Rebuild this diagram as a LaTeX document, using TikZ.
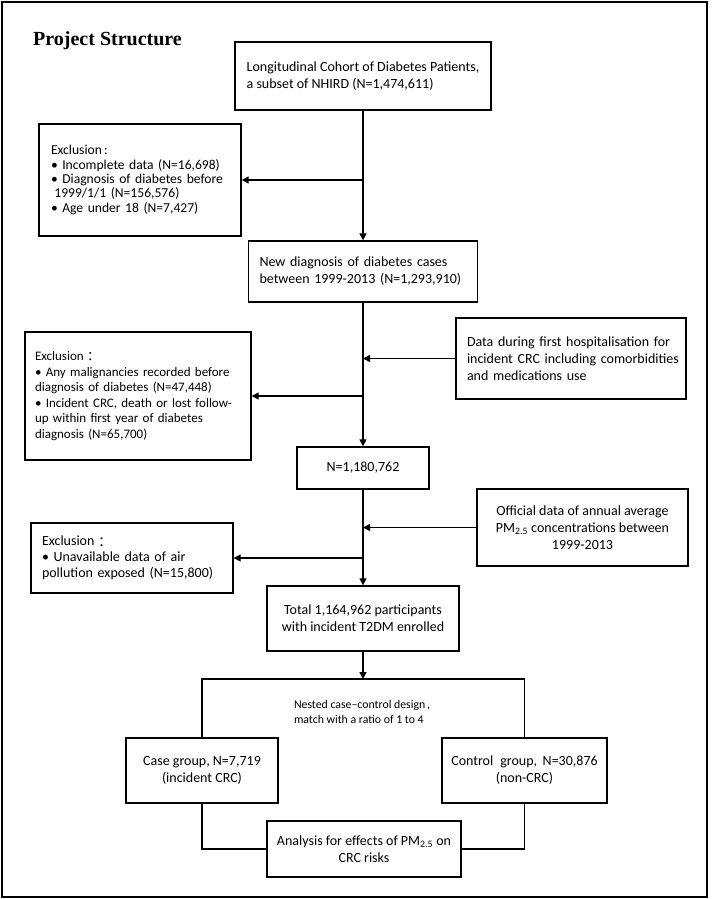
\documentclass[tikz,border=0pt]{standalone}
\usepackage{fontspec}
\setmainfont{Carlito}
\newfontfamily\titlefont{Liberation Serif}
\newfontfamily\cjk{Noto Sans CJK TC}
\usetikzlibrary{arrows.meta}
\newcommand{\fwcolon}{\raisebox{-0.12em}{\cjk ：}}
\begin{document}
\begin{tikzpicture}[x=1pt,y=-1pt,
  box/.style={draw, line width=1.4pt, inner ysep=0pt, font=\fontsize{14}{17}\selectfont},
  exbox/.style={draw, line width=1.4pt, inner ysep=0pt, align=left},
  arr/.style={line width=1.4pt, -{Triangle[length=7pt,width=7pt]}},
  ln/.style={line width=1.4pt}]
\useasboundingbox (0,0) rectangle (712,899);
\draw[line width=1.6pt] (2,2) rectangle (707,897);

\node[anchor=base west, inner sep=0pt, font=\titlefont\bfseries\fontsize{20}{24}\selectfont] (title) at (33,46) {Project Structure};

\node[box, minimum width=256pt, minimum height=68pt, inner xsep=0pt, align=left] (b1) at (363,76)
  {Longitudinal Cohort of Diabetes Patients,\\a subset of NHIRD (N=1,474,611)};

\node[exbox, minimum height=112pt, inner xsep=12pt, text width=178pt, font=\fontsize{13.6}{14.3}\selectfont] (e1) at (140,180)
  {Exclusion\,:\\%
   • Incomplete data (N=16,698)\\%
   • Diagnosis of diabetes before\\%
   \hspace*{0.25em}1999/1/1 (N=156,576)\\%
   • Age under 18 (N=7,427)};

\node[box, minimum width=229pt, minimum height=61pt, inner xsep=11pt, text width=207pt, align=left] (b2) at (363,271.5)
  {New diagnosis of diabetes cases\\between 1999-2013 (N=1,293,910)};

\node[box, minimum height=81pt, inner xsep=11pt, text width=208pt, align=left] (data) at (571,358.5)
  {\makebox[208pt][s]{Data during first hospitalisation for}\\%
   \makebox[208pt][s]{incident CRC including comorbidities}\\%
   and medications use};

\node[exbox, minimum height=128pt, inner xsep=10pt, text width=206pt, font=\fontsize{13}{15.6}\selectfont] (e2) at (138,396)
  {Exclusion\fwcolon\\%
   • Any malignancies recorded before\\%
   diagnosis of diabetes (N=47,448)\\%
   • Incident CRC, death or lost follow-\\%
   up within first year of diabetes\\%
   diagnosis (N=65,700)};

\node[box, minimum width=132pt, minimum height=42pt, inner xsep=0pt] (n3) at (363,468) {N=1,180,762};

\node[box, minimum width=211pt, minimum height=77pt, inner xsep=0pt, align=center] (pm) at (582.5,527.5)
  {Official data of annual average\\PM\textsubscript{2.5} concentrations between\\1999-2013};

\node[exbox, minimum height=70pt, inner xsep=11pt, text width=180pt, font=\fontsize{14}{16}\selectfont] (e3) at (132,558)
  {Exclusion\fwcolon\\%
   • Unavailable data of air\\%
   pollution exposed (N=15,800)};

\node[box, minimum width=192pt, minimum height=65pt, inner xsep=0pt, align=center] (tot) at (363,618.5)
  {Total 1,164,962 participants\\with incident T2DM enrolled};

\coordinate (nt) at (363,679);
\node[inner sep=0pt, align=left, font=\fontsize{11.8}{15}\selectfont] (nest) at (362,711.5)
  {Nested case–control design\hspace{0.15em},\\match with a ratio of 1 to 4};

\node[box, minimum width=152pt, minimum height=65pt, inner xsep=0pt, align=center] (case) at (202,770.5)
  {Case group, N=7,719\\(incident CRC)};
\node[box, minimum width=165pt, minimum height=65pt, inner xsep=0pt, align=center] (ctrl) at (524.5,770.5)
  {Control\hspace{0.5em}group,\hspace{0.4em}N=30,876\\(non-CRC)};
\node[box, minimum width=194pt, minimum height=56pt, inner xsep=0pt, align=center] (ana) at (364,849)
  {Analysis for effects of PM\textsubscript{2.5} on\\CRC risks};

\draw[arr] (b1.south) -- (b2.north);
\draw[arr] (b1.south |- e1.east) -- (e1.east);
\draw[arr] (b2.south) -- (n3.north);
\draw[arr] (data.west) -- (data.west -| n3.north);
\draw[arr] (n3.north |- e2.east) -- (e2.east);
\draw[arr] (n3.south) -- (tot.north);
\draw[arr] (pm.west) -- (pm.west -| n3.south);
\draw[arr] (n3.south |- e3.east) -- (e3.east);
\draw[arr] (tot.south) -- (nt);
\draw[ln] (case.north) |- (nt) -| (ctrl.north);
\draw[ln] (case.south) |- (ana.west);
\draw[ln] (ctrl.south) |- (ana.east);
\end{tikzpicture}
\end{document}
